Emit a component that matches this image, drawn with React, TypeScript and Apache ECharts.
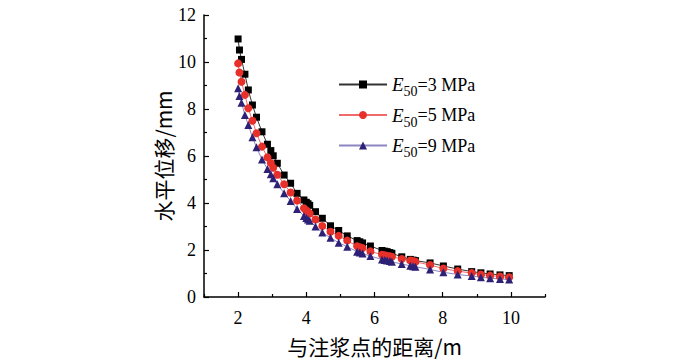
import React, { useEffect, useRef } from "react";
import * as echarts from "echarts";

const distance = [2.0, 2.04, 2.1, 2.2, 2.3, 2.42, 2.54, 2.7, 2.86, 2.96, 3.03, 3.15, 3.35, 3.54, 3.73, 3.93, 4.0, 4.05, 4.1, 4.27, 4.47, 4.71, 4.95, 5.2, 5.49, 5.57, 5.65, 5.88, 6.22, 6.3, 6.37, 6.45, 6.51, 6.8, 7.05, 7.13, 7.2, 7.63, 8.02, 8.44, 8.85, 9.12, 9.39, 9.68, 9.95];

const e3 = [10.98, 10.51, 10.11, 9.48, 8.81, 8.17, 7.65, 7.03, 6.5, 6.23, 6.01, 5.69, 5.19, 4.84, 4.41, 4.13, 4.03, 3.97, 3.9, 3.63, 3.35, 3.03, 2.83, 2.6, 2.4, 2.35, 2.3, 2.17, 1.98, 1.95, 1.93, 1.89, 1.86, 1.71, 1.6, 1.57, 1.55, 1.45, 1.32, 1.19, 1.08, 1.03, 0.98, 0.94, 0.91];

const e5 = [9.94, 9.55, 9.16, 8.6, 8.03, 7.5, 6.97, 6.4, 5.94, 5.7, 5.5, 5.2, 4.8, 4.45, 4.1, 3.78, 3.68, 3.62, 3.55, 3.3, 3.02, 2.78, 2.6, 2.4, 2.16, 2.12, 2.08, 1.94, 1.8, 1.77, 1.75, 1.73, 1.71, 1.62, 1.55, 1.53, 1.5, 1.36, 1.21, 1.1, 1.02, 0.96, 0.91, 0.87, 0.84];

const e9 = [8.88, 8.55, 8.27, 7.74, 7.32, 6.8, 6.37, 5.85, 5.45, 5.22, 5.05, 4.8, 4.42, 4.08, 3.75, 3.45, 3.36, 3.3, 3.24, 3.0, 2.74, 2.52, 2.31, 2.14, 1.93, 1.89, 1.85, 1.74, 1.6, 1.57, 1.55, 1.53, 1.5, 1.4, 1.33, 1.31, 1.29, 1.17, 1.05, 0.96, 0.89, 0.84, 0.8, 0.77, 0.74];

const seriesNames = ["E50=3 MPa", "E50=5 MPa", "E50=9 MPa"];
const legendLabels: Record<string, string> = {
  "E50=3 MPa": "{i|E}{s|50}{n|=3 MPa}",
  "E50=5 MPa": "{i|E}{s|50}{n|=5 MPa}",
  "E50=9 MPa": "{i|E}{s|50}{n|=9 MPa}",
};
const xMajorTicks = [2, 4, 6, 8, 10];
const xMinorTicks = [1, 3, 5, 7, 9, 11];

const serif = "'Liberation Serif', 'Times New Roman', serif";
const cjk = "'Noto Sans CJK SC', sans-serif";

export default function App() {
  const ref = useRef<HTMLDivElement>(null);
  useEffect(() => {
    if (!ref.current) return;
    const chart = echarts.init(ref.current, undefined, { renderer: "svg" });
    const pairs = (ys: number[]) => distance.map((x, i) => [x, ys[i]]);
    chart.setOption({
      animation: false,
      backgroundColor: "#fff",
      grid: { left: 204, right: 155, top: 15, bottom: 65 },
      legend: {
        orient: "vertical",
        left: 333,
        top: 70,
        itemWidth: 48,
        itemHeight: 10,
        itemGap: 7,
        data: seriesNames,
        formatter: (name: string) => legendLabels[name],
        textStyle: {
          fontFamily: serif,
          color: "#000",
          fontSize: 18,
          rich: {
            i: { fontFamily: serif, fontStyle: "italic", fontSize: 19, color: "#000", lineHeight: 28, verticalAlign: "middle" },
            s: { fontFamily: serif, fontSize: 14, color: "#000", lineHeight: 13, verticalAlign: "bottom" },
            n: { fontFamily: serif, fontSize: 18, color: "#000", lineHeight: 28, verticalAlign: "middle" },
          },
        },
      },
      xAxis: [
        {
          type: "value",
          min: 1,
          max: 11,
          name: "与注浆点的距离/m",
          nameLocation: "middle",
          nameGap: 38,
          nameTextStyle: { fontFamily: cjk, fontSize: 21, color: "#000" },
          axisLine: { show: true, lineStyle: { color: "#000", width: 1.5 } },
          axisTick: { show: true, inside: true, length: 5, customValues: xMajorTicks, lineStyle: { color: "#000", width: 1.2 } },
          axisLabel: { customValues: xMajorTicks, fontFamily: serif, fontSize: 18, color: "#000", margin: 12 },
          splitLine: { show: false },
        },
        {
          type: "value",
          min: 1,
          max: 11,
          position: "bottom",
          axisLine: { show: false },
          axisTick: { show: true, inside: true, length: 3, customValues: xMinorTicks, lineStyle: { color: "#000", width: 1.2 } },
          axisLabel: { show: false },
          splitLine: { show: false },
        },
      ],
      yAxis: {
        type: "value",
        min: 0,
        max: 12,
        interval: 2,
        name: "水平位移/mm",
        nameLocation: "middle",
        nameGap: 31,
        nameTextStyle: { fontFamily: cjk, fontSize: 21, color: "#000" },
        axisLine: { show: true, lineStyle: { color: "#000", width: 1.5 } },
        axisTick: { show: true, inside: true, length: 5, lineStyle: { color: "#000", width: 1.2 } },
        minorTick: { show: true, splitNumber: 2, length: 3, lineStyle: { color: "#000", width: 1.2 } },
        axisLabel: { fontFamily: serif, fontSize: 18, color: "#000", margin: 8 },
        splitLine: { show: false },
      },
      series: [
        {
          name: seriesNames[0],
          type: "line",
          data: pairs(e3),
          symbol: "rect",
          symbolSize: 7,
          itemStyle: { color: "#000" },
          lineStyle: { color: "#333", width: 1 },
        },
        {
          name: seriesNames[1],
          type: "line",
          data: pairs(e5),
          symbol: "circle",
          symbolSize: 8,
          itemStyle: { color: "#e8302a" },
          lineStyle: { color: "#f06a6a", width: 1 },
        },
        {
          name: seriesNames[2],
          type: "line",
          data: pairs(e9),
          symbol: "triangle",
          symbolSize: 8,
          itemStyle: { color: "#2d2176" },
          lineStyle: { color: "#8c86c2", width: 1 },
        },
      ],
    });
    return () => chart.dispose();
  }, []);
  return <div ref={ref} style={{ width: 700, height: 362, position: "absolute", left: 0, top: 0 }} />;
}
